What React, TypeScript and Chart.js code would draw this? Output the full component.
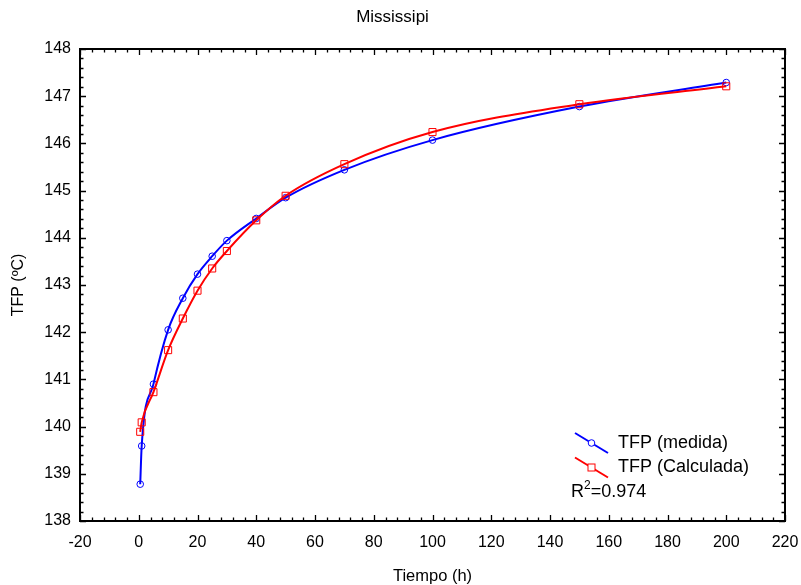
import React, { useEffect, useRef } from "react";
import { Chart, registerables } from "chart.js";

Chart.register(...registerables);

const tiempo = [0.5, 1, 5, 10, 15, 20, 25, 30, 40, 50, 70, 100, 150, 200];
const tfpMedida = [138.78, 139.59, 140.9, 142.05, 142.72, 143.23, 143.61, 143.94, 144.41, 144.85, 145.44, 146.07, 146.78, 147.29];
const tfpCalculada = [139.89, 140.09, 140.73, 141.62, 142.29, 142.88, 143.35, 143.72, 144.37, 144.89, 145.56, 146.24, 146.83, 147.21];
const seriesNames = ["TFP (medida)", "TFP (Calculada)"];
const r2Text = "0.974";
const xMin = -20, xMax = 220, xStep = 20, xMinor = 4;
const yMin = 138, yMax = 148, yStep = 1, yMinor = 0.2;

const FONT = "'Liberation Sans', Arial, sans-serif";

const framePlugin = {
  id: "frameTicks",
  afterDraw(chart: any) {
    const { ctx, chartArea } = chart;
    const { left, right, top, bottom } = chartArea;
    const xs = chart.scales.x;
    const ys = chart.scales.y;
    ctx.save();
    ctx.strokeStyle = "#000";
    ctx.lineWidth = 1.3;
    const eps = 1e-6;
    for (let v = xMin; v <= xMax + eps; v += xMinor) {
      const k = (v - xMin) / xStep;
      const isMajor = Math.abs(k - Math.round(k)) < 1e-6;
      const len = isMajor ? 6 : 3.5;
      const px = Math.round(xs.getPixelForValue(v)) + 0.5;
      ctx.beginPath();
      ctx.moveTo(px, bottom);
      ctx.lineTo(px, bottom - len);
      ctx.moveTo(px, top);
      ctx.lineTo(px, top + len);
      ctx.stroke();
    }
    for (let v = yMin; v <= yMax + eps; v += yMinor) {
      const k = (v - yMin) / yStep;
      const isMajor = Math.abs(k - Math.round(k)) < 1e-6;
      const len = isMajor ? 6 : 3.5;
      const py = Math.round(ys.getPixelForValue(v)) + 0.5;
      ctx.beginPath();
      ctx.moveTo(left, py);
      ctx.lineTo(left + len, py);
      ctx.moveTo(right, py);
      ctx.lineTo(right - len, py);
      ctx.stroke();
    }
    ctx.lineWidth = 2;
    ctx.strokeRect(left, top, right - left, bottom - top);

    const drawEntry = (cy: number, color: string, kind: string, label: string) => {
      const x1 = 575, x2 = 608;
      ctx.strokeStyle = color;
      ctx.lineWidth = 2;
      ctx.beginPath();
      ctx.moveTo(x1, cy - 10);
      ctx.lineTo(x2, cy + 10);
      ctx.stroke();
      const mx = (x1 + x2) / 2;
      ctx.fillStyle = "#fff";
      ctx.lineWidth = 1;
      if (kind === "circle") {
        ctx.beginPath();
        ctx.arc(mx, cy, 3.3, 0, Math.PI * 2);
        ctx.fill();
        ctx.stroke();
      } else {
        ctx.fillRect(mx - 3.5, cy - 3.5, 7, 7);
        ctx.strokeRect(mx - 3.5, cy - 3.5, 7, 7);
      }
      ctx.fillStyle = "#000";
      ctx.font = `18px ${FONT}`;
      ctx.textBaseline = "middle";
      ctx.textAlign = "left";
      ctx.fillText(label, 618, cy);
    };
    drawEntry(443, "#0000ff", "circle", seriesNames[0]);
    drawEntry(467.5, "#ff0000", "rect", seriesNames[1]);
    ctx.fillStyle = "#000";
    ctx.font = `18px ${FONT}`;
    ctx.textBaseline = "alphabetic";
    ctx.fillText("R", 571, 497);
    const rw = ctx.measureText("R").width;
    ctx.font = `12px ${FONT}`;
    ctx.fillText("2", 571 + rw, 489);
    const tw = ctx.measureText("2").width;
    ctx.font = `18px ${FONT}`;
    ctx.fillText("=" + r2Text, 571 + rw + tw, 497);
    ctx.restore();
  },
};

export default function App() {
  const ref = useRef<HTMLCanvasElement | null>(null);
  useEffect(() => {
    document.body.style.margin = "0";
    const canvas = ref.current;
    if (!canvas) return;
    const chart = new Chart(canvas, {
      type: "line",
      data: {
        datasets: [
          {
            label: seriesNames[0],
            data: tiempo.map((t, i) => ({ x: t, y: tfpMedida[i] })),
            borderColor: "#0000ff",
            backgroundColor: "rgba(0,0,0,0)",
            borderWidth: 2,
            pointStyle: "circle",
            pointRadius: 3.3,
            pointBorderWidth: 1,
            pointBorderColor: "#0000ff",
            pointBackgroundColor: "rgba(0,0,0,0)",
            cubicInterpolationMode: "monotone",
            order: 1,
          },
          {
            label: seriesNames[1],
            data: tiempo.map((t, i) => ({ x: t, y: tfpCalculada[i] })),
            borderColor: "#ff0000",
            backgroundColor: "rgba(0,0,0,0)",
            borderWidth: 2,
            pointStyle: "rect",
            pointRadius: 5,
            pointBorderWidth: 1,
            pointBorderColor: "#ff0000",
            pointBackgroundColor: "rgba(0,0,0,0)",
            cubicInterpolationMode: "monotone",
            order: 0,
          },
        ],
      },
      options: {
        responsive: false,
        animation: false,
        layout: { padding: { left: 0, right: 16, top: 0, bottom: 0 } },
        plugins: {
          legend: { display: false },
          tooltip: { enabled: false },
          title: {
            display: true,
            text: "Mississipi",
            color: "#000",
            font: { family: FONT, size: 17, weight: "normal" },
            padding: { top: 7, bottom: 21.6 },
          },
        },
        scales: {
          x: {
            type: "linear",
            min: xMin,
            max: xMax,
            grid: { display: false },
            border: { display: false },
            ticks: {
              stepSize: xStep,
              color: "#000",
              padding: 4,
              maxRotation: 0,
              font: { family: FONT, size: 16 },
            },
            title: {
              display: true,
              text: "Tiempo (h)",
              color: "#000",
              font: { family: FONT, size: 16.5 },
              padding: { top: 0, bottom: -1 },
            },
            afterFit: (s: any) => {
              s.height = 64;
              s.paddingLeft = 0;
              s.paddingRight = 0;
            },
          },
          y: {
            type: "linear",
            min: yMin,
            max: yMax,
            grid: { display: false },
            border: { display: false },
            ticks: {
              stepSize: yStep,
              color: "#000",
              padding: 1,
              font: { family: FONT, size: 16 },
            },
            title: {
              display: true,
              text: "TFP (ºC)",
              color: "#000",
              font: { family: FONT, size: 16 },
              padding: { top: 9, bottom: 0 },
            },
            afterFit: (s: any) => {
              s.width = 80;
              s.paddingTop = 0;
              s.paddingBottom = 0;
            },
          },
        },
      },
      plugins: [framePlugin],
    } as any);
    return () => chart.destroy();
  }, []);
  return <canvas ref={ref} width={801} height={585} style={{ display: "block" }} />;
}
